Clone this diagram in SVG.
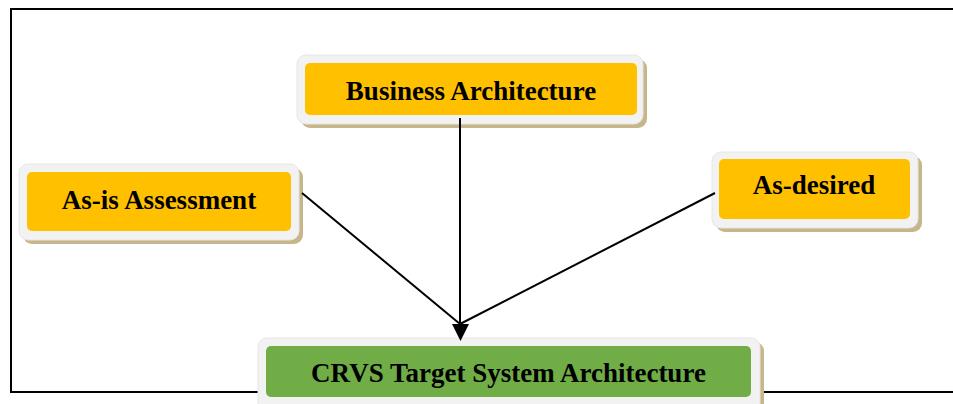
<svg xmlns="http://www.w3.org/2000/svg" width="953" height="404" viewBox="0 0 953 404">
<defs>
<style>
.shadow{fill:#c6b689;}
.outer{fill:#f2f2f2;stroke:#e6e6e6;stroke-width:1;}
.yellow{fill:#ffc000;}
.green{fill:#70ad47;}
.lbl{font-family:"Liberation Serif","Times New Roman",serif;font-weight:bold;font-size:27px;fill:#000;text-anchor:middle;}
.conn{stroke:#000;stroke-width:2;fill:none;}
</style>
</defs>
<rect x="0" y="0" width="953" height="404" fill="#fff"/>
<rect x="11" y="9" width="960" height="383" fill="none" stroke="#000" stroke-width="2"/>
<g id="business">
<rect class="shadow" x="301" y="59" width="346" height="69" rx="9"/>
<rect class="outer" x="297" y="55" width="346" height="69" rx="9"/>
<rect class="yellow" x="305" y="63" width="332" height="52" rx="5"/>
<text class="lbl" x="471" y="100">Business Architecture</text>
</g>
<g id="asis">
<rect class="shadow" x="23" y="168" width="280" height="76" rx="9"/>
<rect class="outer" x="19" y="164" width="280" height="76" rx="9"/>
<rect class="yellow" x="27" y="172" width="264" height="59" rx="5"/>
<text class="lbl" x="159" y="209">As-is Assessment</text>
</g>
<g id="asdesired">
<rect class="shadow" x="716" y="156" width="206" height="76" rx="9"/>
<rect class="outer" x="712" y="152" width="206" height="76" rx="9"/>
<rect class="yellow" x="719" y="159" width="191" height="60" rx="5"/>
<text class="lbl" x="814" y="194">As-desired</text>
</g>
<g id="crvs">
<rect class="shadow" x="262" y="342" width="502" height="80" rx="9"/>
<rect class="outer" x="258" y="338" width="502" height="80" rx="9"/>
<rect class="green" x="266" y="346" width="485" height="51" rx="5"/>
<text class="lbl" x="508.5" y="382">CRVS Target System Architecture</text>
</g>
<g id="connectors">
<line class="conn" x1="460" y1="118" x2="460" y2="324"/>
<line class="conn" x1="302" y1="193" x2="460" y2="324"/>
<line class="conn" x1="715" y1="193" x2="460" y2="324"/>
<path d="M452,324 L469,324 L460.5,341 Z" fill="#000"/>
</g>
</svg>
